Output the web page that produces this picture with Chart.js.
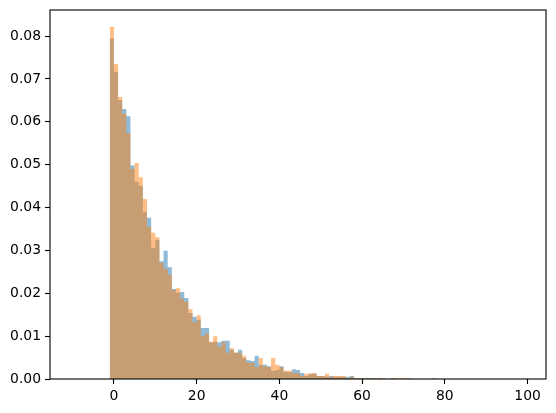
<!DOCTYPE html>
<html>
<head>
<meta charset="utf-8">
<script src="https://cdn.jsdelivr.net/npm/chart.js@4"></script>
<style>
  html, body { margin: 0; padding: 0; background: #fff; }
  #wrap { width: 556px; height: 413px; position: relative; }
</style>
</head>
<body>
<div id="wrap"><canvas id="histChart"></canvas></div>
<script>
// Bin left edges (width 1) and density per bin
const binEdges = [
  -1, 0, 1, 2, 3, 4, 5, 6, 7, 8, 9, 10, 11, 12, 13, 14, 15, 16, 17, 18,
  19, 20, 21, 22, 23, 24, 25, 26, 27, 28, 29, 30, 31, 32, 33, 34, 35, 36, 37, 38,
  39, 40, 41, 42, 43, 44, 45, 46, 47, 48, 49, 50, 51, 52, 53, 54, 55, 56, 57, 58,
  59, 60, 61, 62, 63, 64, 65, 66, 67, 68, 69, 70, 71, 72, 73, 74, 75, 76, 77
];
const binWidth = 1;

const blueDensity = [
  0.0795, 0.0717, 0.0651, 0.0630, 0.0613, 0.0498, 0.0460, 0.0451, 0.0390, 0.0376,
  0.0306, 0.0325, 0.0275, 0.0299, 0.0261, 0.0210, 0.0201, 0.0203, 0.0189, 0.0154,
  0.0145, 0.0138, 0.0119, 0.0119, 0.0085, 0.0087, 0.0086, 0.0089, 0.0089, 0.0068,
  0.0061, 0.0068, 0.0049, 0.0044, 0.0042, 0.0054, 0.0033, 0.0033, 0.0030, 0.0019,
  0.0021, 0.0030, 0.0017, 0.0016, 0.0023, 0.0021, 0.0014, 0.0007, 0.0012, 0.0012,
  0.0007, 0.0007, 0.0005, 0.0007, 0.0005, 0.0005, 0.0005, 0.0005, 0.0007, 0.0002,
  0.0002, 0.0002, 0.0002, 0.0002, 0, 0.0002, 0, 0, 0.0002, 0,
  0, 0, 0, 0, 0, 0, 0, 0, 0.0002
];
const orangeDensity = [
  0.0822, 0.0735, 0.0658, 0.0619, 0.0574, 0.0490, 0.0504, 0.0471, 0.0420, 0.0355,
  0.0341, 0.0331, 0.0271, 0.0257, 0.0243, 0.0207, 0.0212, 0.0187, 0.0180, 0.0163,
  0.0133, 0.0149, 0.0100, 0.0106, 0.0087, 0.0100, 0.0075, 0.0086, 0.0061, 0.0072,
  0.0062, 0.0061, 0.0054, 0.0038, 0.0038, 0.0028, 0.0049, 0.0030, 0.0028, 0.0049,
  0.0033, 0.0028, 0.0019, 0.0019, 0.0014, 0.0014, 0.0007, 0.0012, 0.0012, 0.0014,
  0.0007, 0.0007, 0.0012, 0.0005, 0.0007, 0.0007, 0.0007, 0.0002, 0.0005, 0.0002,
  0.0002, 0.0002, 0.0002, 0.0002, 0.0002, 0.0002, 0.0002, 0, 0.0002, 0.0002,
  0.0002, 0.0002, 0.0002, 0, 0, 0, 0, 0, 0
];

const xTicks = [0, 20, 40, 60, 80, 100];
const yTicks = [0, 0.01, 0.02, 0.03, 0.04, 0.05, 0.06, 0.07, 0.08];

// histogram outline as a stepped line: one point per bin left edge,
// plus a closing point at the right edge of the last bin
function toSteps(values) {
  const pts = values.map((v, i) => ({ x: binEdges[i], y: v }));
  pts.push({ x: binEdges[binEdges.length - 1] + binWidth, y: 0 });
  return pts;
}

// draws the four spines like matplotlib
const framePlugin = {
  id: 'frame',
  afterDraw(chart) {
    const a = chart.chartArea;
    const ctx = chart.ctx;
    ctx.save();
    ctx.strokeStyle = '#000';
    ctx.lineWidth = 1.1;
    ctx.strokeRect(a.left, a.top, a.right - a.left, a.bottom - a.top);
    ctx.restore();
  }
};

const tickFont = { family: 'DejaVu Sans', size: 13.9 };

function histSet(label, values, color, order) {
  return {
    label: label,
    data: toSteps(values),
    stepped: 'before',
    fill: 'origin',
    backgroundColor: color,
    borderWidth: 0,
    borderColor: 'rgba(0,0,0,0)',
    pointRadius: 0,
    order: order
  };
}

new Chart(document.getElementById('histChart'), {
  type: 'line',
  data: {
    datasets: [
      histSet('a', blueDensity, 'rgba(31, 119, 180, 0.5)', 2),
      histSet('b', orangeDensity, 'rgba(255, 127, 14, 0.5)', 1)
    ]
  },
  options: {
    responsive: true,
    maintainAspectRatio: false,
    animation: false,
    layout: { padding: { top: 10, right: 10, left: 0, bottom: 0 } },
    plugins: {
      legend: { display: false },
      tooltip: { enabled: false }
    },
    scales: {
      x: {
        type: 'linear',
        min: -15.45,
        max: 104.45,
        offset: false,
        border: { display: false },
        grid: {
          drawOnChartArea: false,
          drawTicks: true,
          tickLength: 5,
          tickWidth: 1.1,
          tickColor: '#000'
        },
        ticks: {
          padding: 4,
          color: '#000',
          font: tickFont,
          maxRotation: 0,
          autoSkip: false,
          callback: v => String(v)
        },
        afterBuildTicks: scale => { scale.ticks = xTicks.map(v => ({ value: v })); },
        afterFit: scale => { scale.height = 34; }
      },
      y: {
        type: 'linear',
        min: 0,
        max: 0.0861,
        border: { display: false },
        grid: {
          drawOnChartArea: false,
          drawTicks: true,
          tickLength: 5,
          tickWidth: 1.1,
          tickColor: '#000'
        },
        ticks: {
          padding: 4,
          color: '#000',
          font: { family: 'DejaVu Sans', size: 13.9, lineHeight: 0.8 },
          autoSkip: false,
          callback: v => v.toFixed(2)
        },
        afterBuildTicks: scale => { scale.ticks = yTicks.map(v => ({ value: v })); },
        afterFit: scale => { scale.width = 50; }
      }
    }
  },
  plugins: [framePlugin]
});
</script>
</body>
</html>
